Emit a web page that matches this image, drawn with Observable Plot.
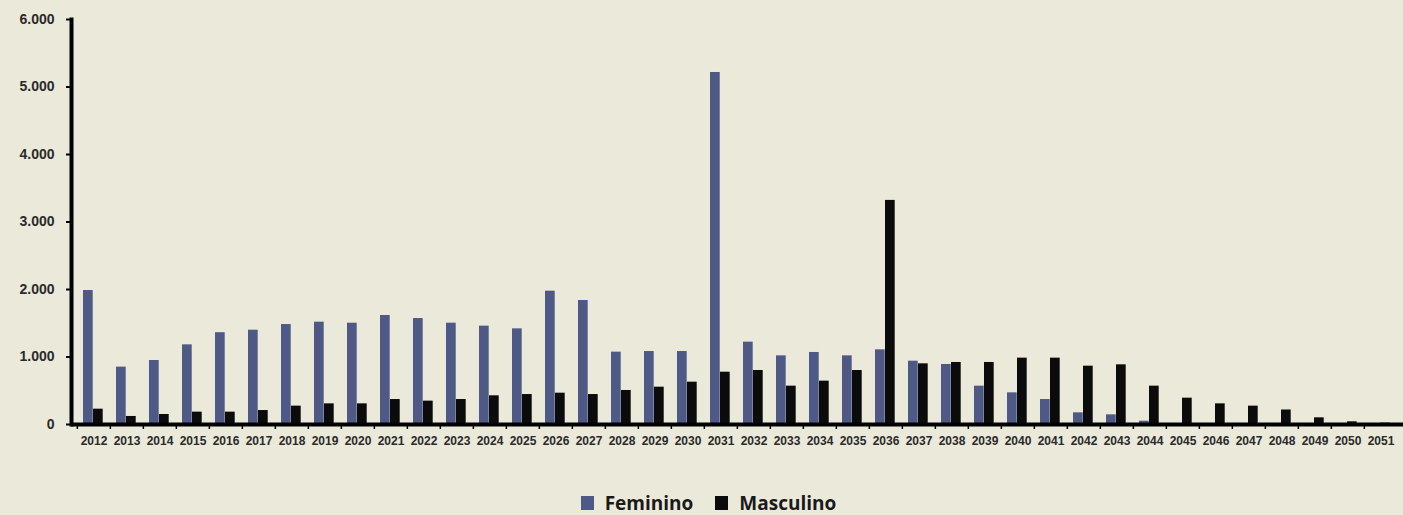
<!DOCTYPE html>
<html>
<head>
<meta charset="utf-8">
<script src="https://cdn.jsdelivr.net/npm/d3@7"></script>
<script src="https://cdn.jsdelivr.net/npm/@observablehq/plot@0.6"></script>
<style>
  html, body { margin: 0; padding: 0; background: #EBE9DA; }
  #chart { width: 1403px; }
  .legend {
    display: flex; justify-content: center; align-items: center;
    height: 65px; padding-top: 40px; padding-left: 14px; box-sizing: border-box;
    font-family: "Open Sans", "Liberation Sans", sans-serif;
    font-weight: 700; font-size: 19px; color: #1a1a1a;
  }
  .legend .item { display: flex; align-items: center; margin: 0 11px; }
  .legend .sw { width: 13px; height: 14px; margin-right: 11px; }
</style>
</head>
<body>
<div id="chart"></div>
<script>
// Years on the category axis
const years = d3.range(2012, 2052).map(String);

// Series values (one per year)
const feminino = [
  1985, 850, 948, 1180, 1360, 1397, 1481, 1516, 1501, 1615,
  1570, 1501, 1457, 1417, 1975, 1837, 1072, 1081, 1081, 5215,
  1220, 1017, 1067, 1017, 1106, 938, 889, 568, 469, 370,
  173, 143, 49, 0, 0, 0, 0, 0, 10, 0
];
const masculino = [
  227, 119, 148, 183, 183, 207, 272, 306, 306, 370,
  346, 370, 425, 444, 464, 444, 504, 553, 627, 775,
  800, 568, 642, 800, 3320, 899, 919, 919, 983, 983,
  864, 884, 568, 390, 306, 272, 215, 99, 40, 20
];

// Series names and colours
const seriesNames = ["Feminino", "Masculino"];
const seriesColors = ["#4E5986", "#0B0B0B"];

// Y-axis ticks
const yTicks = [0, 1000, 2000, 3000, 4000, 5000, 6000];

const femRows = years.map((year, i) => ({year, value: feminino[i]}));
const mascRows = years.map((year, i) => ({year, value: masculino[i]}));

const width = 1403, marginLeft = 71, marginRight = 0;
const band = (width - marginLeft - marginRight) / years.length;

// Portuguese-style thousands separator: 6.000
const fmt = d => d3.format(",")(d).replace(/,/g, ".");

const chart = Plot.plot({
  width,
  height: 450,
  marginLeft,
  marginRight,
  marginTop: 19,
  marginBottom: 26,
  style: {
    background: "#EBE9DA",
    fontFamily: "'Liberation Sans', Arial, sans-serif",
    fontWeight: "bold",
    color: "#2a2a2a"
  },
  x: {domain: years, padding: 0, label: null},
  y: {domain: [0, 6000], label: null},
  marks: [
    Plot.barY(femRows, {x: "year", y: "value", fill: seriesColors[0], insetLeft: 6, insetRight: band - 16}),
    Plot.barY(mascRows, {x: "year", y: "value", fill: seriesColors[1], insetLeft: 16, insetRight: band - 26}),
    // tick marks between categories
    Plot.axisX({tickSize: 5, tickFormat: () => "", dx: -band / 2, stroke: "#000", strokeWidth: 1.5}),
    // year labels
    Plot.axisX({tickSize: 0, tickPadding: 12, fontSize: 12, fontWeight: "bold", fill: "#2a2a2a"}),
    Plot.axisY({ticks: yTicks, tickFormat: fmt, tickSize: 5, tickPadding: 12, fontSize: 14, fontWeight: "bold", stroke: "#000", strokeWidth: 2, fill: "#2a2a2a"}),
    Plot.ruleY([0], {stroke: "#000", strokeWidth: 4}),
    Plot.frame({anchor: "left", stroke: "#000", strokeWidth: 4})
  ]
});
document.getElementById("chart").append(chart);

// Legend below the chart
const legend = document.createElement("div");
legend.className = "legend";
seriesNames.forEach((name, i) => {
  const item = document.createElement("div");
  item.className = "item";
  const sw = document.createElement("span");
  sw.className = "sw";
  sw.style.background = seriesColors[i];
  const label = document.createElement("span");
  label.textContent = name;
  item.append(sw, label);
  legend.append(item);
});
document.getElementById("chart").append(legend);
</script>
</body>
</html>
